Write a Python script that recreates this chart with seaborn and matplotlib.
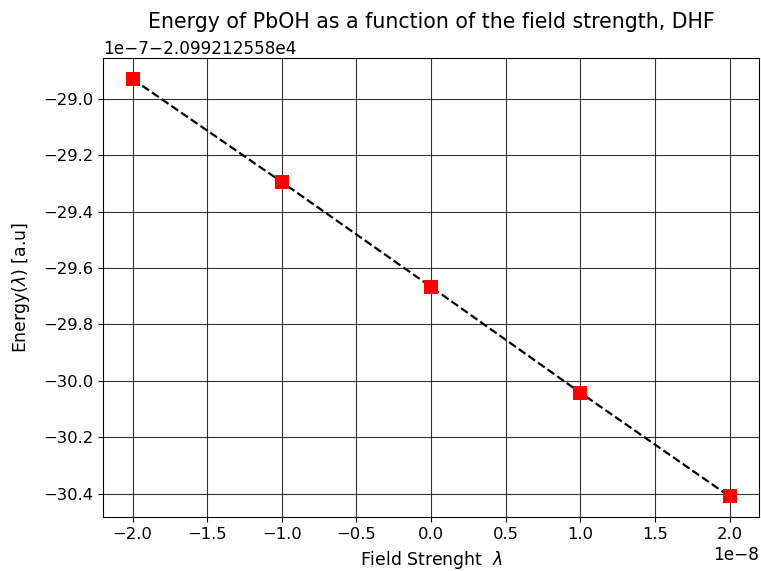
import numpy as np
import pandas as pd
import matplotlib
matplotlib.use("Agg")
import matplotlib.pyplot as plt
import seaborn as sns

# field strengths (a.u.)
field = [-2e-8, -1e-8, 0.0, 1e-8, 2e-8]
# DHF energies, written as offset from the reference energy in units of 1e-7
e_ref = -2.099212558e4
e_shift = [-28.93, -29.295, -29.667, -30.042, -30.41]

df = pd.DataFrame({
    'field': field,
    'energy': [e_ref + 1e-7 * d for d in e_shift],
})

plt.rcParams['xtick.labelsize'] = 11.8
plt.rcParams['ytick.labelsize'] = 11.8

fig, ax = plt.subplots(figsize=(7.61, 5.71), dpi=100)
fig.subplots_adjust(left=0.135, right=0.998, top=0.898, bottom=0.094)

sns.lineplot(data=df, x='field', y='energy', ax=ax, color='black',
             linestyle='--', linewidth=1.6, zorder=3)
sns.scatterplot(data=df, x='field', y='energy', ax=ax, marker='s',
                color='red', s=90, edgecolor='red', linewidth=0, zorder=4)

ax.grid(True, color='black', linewidth=0.8, alpha=0.8)
ax.set_axisbelow(True)
ax.set_title("Energy of PbOH as a function of the field strength, DHF",
             fontsize=14.8, pad=9)
ax.set_xlabel(r"Field Strenght  $\lambda$", fontsize=12.4, labelpad=5)
ax.set_ylabel(r"Energy($\lambda$) [a.u]", fontsize=12.4, labelpad=8)
ax.yaxis.get_offset_text().set_fontsize(12.2)
ax.xaxis.get_offset_text().set_fontsize(12.2)

fig.savefig("out.png", dpi=100)
